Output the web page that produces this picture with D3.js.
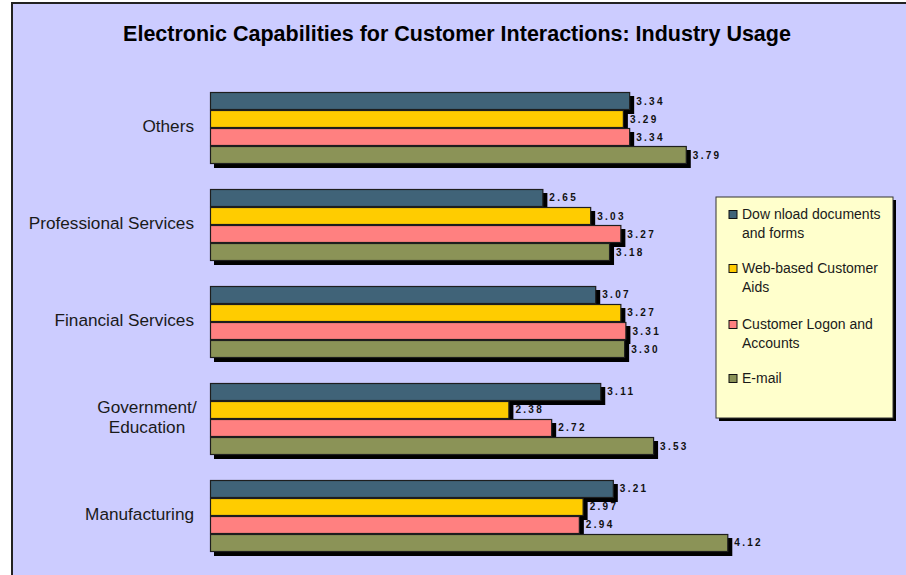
<!DOCTYPE html>
<html>
<head>
<meta charset="utf-8">
<script src="https://cdn.jsdelivr.net/npm/d3@7"></script>
<style>
  html, body { margin: 0; padding: 0; background: #ffffff; }
  svg { display: block; font-family: "Liberation Sans", Arial, sans-serif; }
</style>
</head>
<body>
<svg id="chart" width="906" height="575"></svg>
<script>
// Industries, listed top to bottom
const industries = ["Others", "Professional Services", "Financial Services", "Government/ Education", "Manufacturing"];
// Capability series, listed top to bottom within each industry group
const capabilities = ["Download documents and forms", "Web-based Customer Aids", "Customer Logon and Accounts", "E-mail"];
const legendLines = [["Dow nload documents", "and forms"], ["Web-based Customer", "Aids"], ["Customer Logon and", "Accounts"], ["E-mail"]];
const seriesColors = ["#406378", "#FFCC00", "#FF8080", "#8B9357"];

// Average usage score per industry, one array per capability
const downloadDocs   = [3.34, 2.65, 3.07, 3.11, 3.21];
const webAids        = [3.29, 3.03, 3.27, 2.38, 2.97];
const customerLogon  = [3.34, 3.27, 3.31, 2.72, 2.94];
const email          = [3.79, 3.18, 3.30, 3.53, 4.12];
const seriesValues = [downloadDocs, webAids, customerLogon, email];

const title = "Electronic Capabilities for Customer Interactions: Industry Usage";

const svg = d3.select("#chart");

// Plot area background with frame
svg.append("rect")
  .attr("x", 12).attr("y", 3)
  .attr("width", 1000).attr("height", 1000)
  .attr("fill", "#CCCCFF")
  .attr("stroke", "#222").attr("stroke-width", 2);

svg.append("text")
  .attr("x", 457).attr("y", 41)
  .attr("text-anchor", "middle")
  .attr("font-size", 21.5).attr("font-weight", "bold")
  .attr("fill", "#000")
  .text(title);

const x = d3.scaleLinear().domain([0, 5]).range([210, 839]);
const y = d3.scaleBand().domain(industries).range([92, 552]).paddingInner(0.2577).paddingOuter(0);
const ySub = d3.scaleBand().domain(capabilities).range([0, y.bandwidth()]).padding(0);

const rows = [];
industries.forEach((ind, i) => {
  capabilities.forEach((cap, j) => {
    rows.push({ ind, cap, j, value: seriesValues[j][i] });
  });
});

const shadow = 4;
const g = svg.append("g");
rows.forEach(d => {
  const top = y(d.ind) + ySub(d.cap);
  const w = x(d.value) - x(0);
  g.append("rect")
    .attr("x", x(0) + shadow).attr("y", top + shadow)
    .attr("width", w).attr("height", ySub.bandwidth())
    .attr("fill", "#000");
  g.append("rect")
    .attr("x", x(0) + 0.5).attr("y", top + 0.5)
    .attr("width", w - 1).attr("height", ySub.bandwidth() - 1)
    .attr("fill", seriesColors[d.j])
    .attr("stroke", "#1e1e1e").attr("stroke-width", 1.2);
});
// Value labels after all bars so shadows never cover them
rows.forEach(d => {
  const top = y(d.ind) + ySub(d.cap);
  svg.append("text")
    .attr("x", x(d.value) + 6)
    .attr("y", top + ySub.bandwidth() / 2)
    .attr("dy", "0.35em")
    .attr("font-size", 10).attr("font-weight", "bold")
    .attr("letter-spacing", 2.3)
    .attr("fill", "#111")
    .text(d.value.toFixed(2));
});

// Industry labels; the two-line label is centred under itself
industries.forEach(ind => {
  const cy = y(ind) + y.bandwidth() / 2;
  const parts = ind.includes("/ ") ? [ind.split("/ ")[0] + "/", ind.split("/ ")[1]] : [ind];
  const t = svg.append("text")
    .attr("font-size", 17.2)
    .attr("fill", "#1a1a1a");
  if (parts.length === 1) {
    t.attr("x", 194).attr("y", cy - 1).attr("dy", "0.3em")
      .attr("text-anchor", "end").text(ind);
  } else {
    t.attr("text-anchor", "middle");
    parts.forEach((p, k) => {
      t.append("tspan").attr("x", 147).attr("y", cy - 11 + k * 19.5).attr("dy", "0.3em").text(p);
    });
  }
});

// Legend
const lg = svg.append("g");
lg.append("rect").attr("x", 719).attr("y", 200).attr("width", 177).attr("height", 221).attr("fill", "#000");
lg.append("rect").attr("x", 716).attr("y", 197).attr("width", 177).attr("height", 221)
  .attr("fill", "#FFFFCC").attr("stroke", "#333").attr("stroke-width", 1);
const itemTops = [214, 268, 324, 378];
legendLines.forEach((lines, j) => {
  lg.append("rect")
    .attr("x", 729).attr("y", itemTops[j] - 3.5)
    .attr("width", 8).attr("height", 8)
    .attr("fill", seriesColors[j]).attr("stroke", "#111").attr("stroke-width", 1);
  lines.forEach((ln, k) => {
    lg.append("text")
      .attr("x", 742).attr("y", itemTops[j] + k * 19)
      .attr("dy", "0.35em")
      .attr("font-size", 14).attr("fill", "#1a1a1a")
      .text(ln);
  });
});
</script>
</body>
</html>
